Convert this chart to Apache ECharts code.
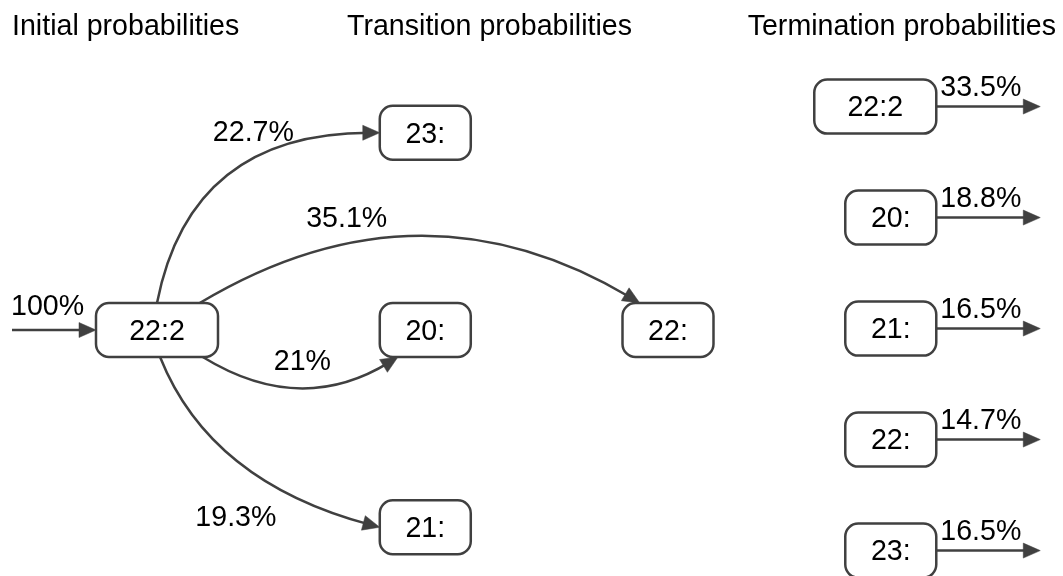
<!DOCTYPE html>
<html><head><meta charset="utf-8">
<script src="https://cdn.jsdelivr.net/npm/echarts@6/dist/echarts.min.js"></script>
<style>html,body{margin:0;padding:0;background:#fff}#chart{width:1063px;height:576px}</style>
</head><body><div id="chart"></div>
<script>
// ---------------- data ----------------
const sectionTitles = ['Initial probabilities', 'Transition probabilities', 'Termination probabilities'];
const initialProb = '100%';
const stateNames = ['22:2', '23:', '20:', '22:', '21:'];
const stateColumn = [0, 1.05, 1.05, 2, 1.05];   // layout column of each state
const stateRow = [1, 0, 1, 1, 2];               // layout row of each state
const edgeFrom = [0, 0, 0, 0];
const edgeTo = [1, 3, 2, 4];
const edgeProb = ['22.7%', '35.1%', '21%', '19.3%'];
const termStates = ['22:2', '20:', '21:', '22:', '23:'];
const termProb = ['33.5%', '18.8%', '16.5%', '14.7%', '16.5%'];
const termColumn = [3.05, 3.05, 3.05, 3.05, 3.05];
const termRow = [0, 1, 2, 3, 4];

// ---------------- style ----------------
const INK = '#404040';
const FONT = '"Liberation Sans", Arial, Helvetica, sans-serif';
const FS = 28.6;
const LW = 2.5;
const BOX_H = 54;
const BOX_R = 13;
const TEXT_DY = 2;
const boxWidth = name => (name.length > 3 ? 122 : 91);
const startPort = [[0, -1], [0.7, -1], [0.75, 1], [0.05, 1]];
const endPort = [[-1, 0], [-0.62, -1], [-0.6, 1], [-1, 0]];
const ctrlOffset = [[-78, -85], [0, -132], [0, 60], [-60, 40]];
const labelOffset = [[24, -44], [-73, -20], [2, -27], [-4, 54]];
const ARROW_L = 17, ARROW_W = 7.5;

function arrowHead(tip, dir) {
  const bx = tip[0] - dir[0] * ARROW_L, by = tip[1] - dir[1] * ARROW_L;
  const nx = -dir[1], ny = dir[0];
  return {
    type: 'polygon',
    shape: { points: [[tip[0], tip[1]], [bx + nx * ARROW_W, by + ny * ARROW_W], [bx - nx * ARROW_W, by - ny * ARROW_W]] },
    style: { fill: INK, stroke: INK, lineWidth: 0.5 }
  };
}
function textEl(str, x, y, align) {
  return {
    type: 'text', x: x, y: y + TEXT_DY,
    style: { text: str, fontSize: FS, fontFamily: FONT, fill: '#000', align: align || 'center', verticalAlign: 'middle' }
  };
}
function boxEl(cx, cy, w) {
  return {
    type: 'rect',
    shape: { x: cx - w / 2, y: cy - BOX_H / 2, width: w, height: BOX_H, r: BOX_R },
    style: { fill: '#fff', stroke: INK, lineWidth: LW }
  };
}

const chart = echarts.init(document.getElementById('chart'), null, { renderer: 'canvas' });

const option = {
  animation: false,
  backgroundColor: '#fff',
  title: [
    { text: sectionTitles[0], left: 7, top: 8 },
    { text: sectionTitles[1], left: 342, top: 8 },
    { text: sectionTitles[2], right: 2, top: 8 }
  ].map(t => Object.assign(t, { textStyle: { fontSize: FS, fontWeight: 'normal', color: '#000', fontFamily: FONT } })),
  grid: { left: 0, right: 0, top: 0, bottom: 0 },
  xAxis: { type: 'value', min: -0.61448, max: 3.54599, show: false },
  yAxis: [
    { type: 'value', inverse: true, min: -0.673, max: 2.247, show: false },
    { type: 'value', inverse: true, min: -0.96, max: 4.229, show: false }
  ],
  series: [
    // transition edges
    {
      type: 'custom', name: 'transitions', xAxisIndex: 0, yAxisIndex: 0, z: 2,
      data: edgeFrom.map((f, i) => [stateColumn[f], stateRow[f], stateColumn[edgeTo[i]], stateRow[edgeTo[i]], i]),
      encode: { x: [0, 2], y: [1, 3] },
      renderItem: function (params, api) {
        const i = api.value(4);
        const a = api.coord([api.value(0), api.value(1)]);
        const b = api.coord([api.value(2), api.value(3)]);
        const wa = boxWidth(stateNames[edgeFrom[i]]) / 2, wb = boxWidth(stateNames[edgeTo[i]]) / 2;
        const p0 = [a[0] + startPort[i][0] * wa, a[1] + startPort[i][1] * BOX_H / 2];
        const p2 = [b[0] + endPort[i][0] * wb, b[1] + endPort[i][1] * BOX_H / 2];
        const c = [(p0[0] + p2[0]) / 2 + ctrlOffset[i][0], (p0[1] + p2[1]) / 2 + ctrlOffset[i][1]];
        let dx = p2[0] - c[0], dy = p2[1] - c[1];
        const d = Math.hypot(dx, dy); dx /= d; dy /= d;
        const end = [p2[0] - dx * ARROW_L * 0.6, p2[1] - dy * ARROW_L * 0.6];
        const mid = [0.25 * p0[0] + 0.5 * c[0] + 0.25 * p2[0], 0.25 * p0[1] + 0.5 * c[1] + 0.25 * p2[1]];
        return {
          type: 'group',
          children: [
            { type: 'bezierCurve', shape: { x1: p0[0], y1: p0[1], x2: end[0], y2: end[1], cpx1: c[0], cpy1: c[1] },
              style: { stroke: INK, lineWidth: LW, fill: null } },
            arrowHead(p2, [dx, dy]),
            textEl(edgeProb[i], mid[0] + labelOffset[i][0], mid[1] + labelOffset[i][1])
          ]
        };
      }
    },
    // initial probability arrow
    {
      type: 'custom', name: 'initial', xAxisIndex: 0, yAxisIndex: 0, z: 2,
      data: [[stateColumn[0], stateRow[0], 0]],
      renderItem: function (params, api) {
        const a = api.coord([api.value(0), api.value(1)]);
        const left = a[0] - boxWidth(stateNames[api.value(2)]) / 2;
        const start = left - 84;
        return {
          type: 'group',
          children: [
            { type: 'line', shape: { x1: start, y1: a[1], x2: left - ARROW_L * 0.6, y2: a[1] }, style: { stroke: INK, lineWidth: LW } },
            arrowHead([left, a[1]], [1, 0]),
            textEl(initialProb, start - 1, a[1] - 25, 'left')
          ]
        };
      }
    },
    // states
    {
      type: 'custom', name: 'states', xAxisIndex: 0, yAxisIndex: 0, z: 3,
      data: stateNames.map((n, i) => [stateColumn[i], stateRow[i], i]),
      renderItem: function (params, api) {
        const c = api.coord([api.value(0), api.value(1)]);
        const name = stateNames[api.value(2)];
        return { type: 'group', children: [boxEl(c[0], c[1], boxWidth(name)), textEl(name, c[0], c[1])] };
      }
    },
    // termination
    {
      type: 'custom', name: 'termination', xAxisIndex: 0, yAxisIndex: 1, z: 3,
      data: termStates.map((n, i) => [termColumn[i], termRow[i], i]),
      renderItem: function (params, api) {
        const i = api.value(2);
        const r = api.coord([api.value(0), api.value(1)]);
        const name = termStates[i];
        const w = boxWidth(name);
        const cx = r[0] - w / 2;
        const tip = r[0] + 104;
        return {
          type: 'group',
          children: [
            { type: 'line', shape: { x1: r[0], y1: r[1], x2: tip - ARROW_L * 0.6, y2: r[1] }, style: { stroke: INK, lineWidth: LW } },
            arrowHead([tip, r[1]], [1, 0]),
            boxEl(cx, r[1], w),
            textEl(name, cx, r[1]),
            textEl(termProb[i], r[0] + 4, r[1] - 20, 'left')
          ]
        };
      }
    }
  ]
};
chart.setOption(option);
</script>
</body></html>
